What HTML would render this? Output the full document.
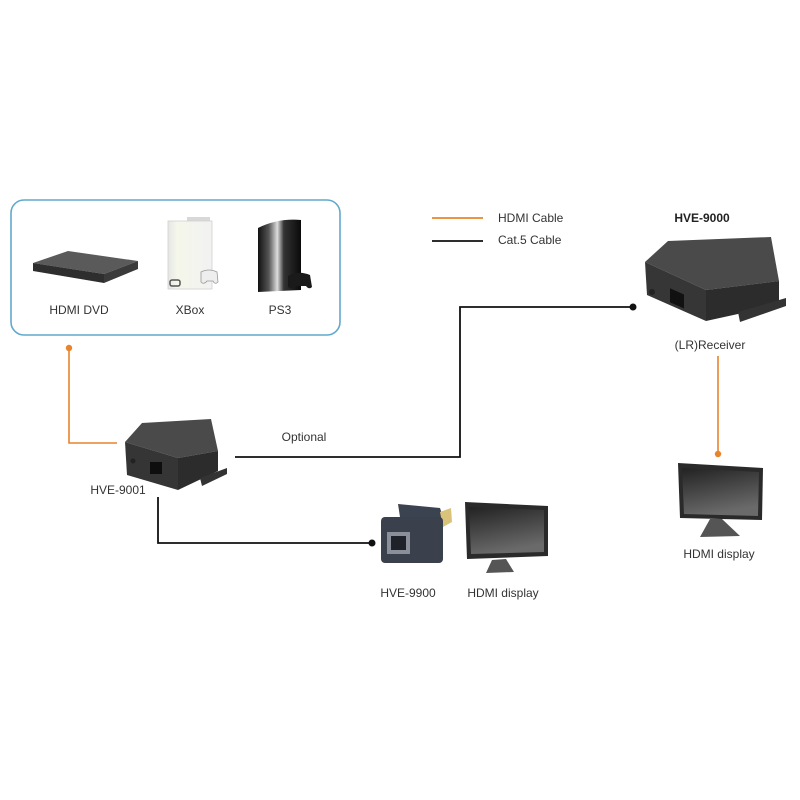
<!DOCTYPE html>
<html><head><meta charset="utf-8"><style>
html,body{margin:0;padding:0;background:#fff;}
svg{display:block;}
text{font-family:"Liberation Sans",sans-serif;fill:#333;font-size:12px;}
</style></head><body>
<svg width="800" height="800" viewBox="0 0 800 800" xmlns="http://www.w3.org/2000/svg">
<defs>
<linearGradient id="ps3" x1="0" x2="1" y1="0" y2="0">
<stop offset="0" stop-color="#111"/><stop offset="0.25" stop-color="#555"/><stop offset="0.45" stop-color="#ddd"/><stop offset="0.6" stop-color="#333"/><stop offset="1" stop-color="#0a0a0a"/>
</linearGradient>
<linearGradient id="xb" x1="0" x2="1" y1="0" y2="0">
<stop offset="0" stop-color="#e6e6e6"/><stop offset="0.2" stop-color="#f4f7ea"/><stop offset="1" stop-color="#f2f2f2"/>
</linearGradient>
<linearGradient id="scr" x1="0" x2="0.3" y1="0" y2="1">
<stop offset="0" stop-color="#222"/><stop offset="1" stop-color="#6a6a6a"/>
</linearGradient>
</defs>
<!-- source box -->
<rect x="11" y="200" width="329" height="135" rx="13" ry="13" fill="none" stroke="#62a9cb" stroke-width="1.6"/>

<!-- DVD -->
<polygon points="33,263 68,251 138,261 104,274" fill="#5a5a5a"/>
<polygon points="33,263 104,274 104,283 33,271" fill="#2e2e2e"/>
<polygon points="104,274 138,261 138,269 104,283" fill="#3a3a3a"/>
<text x="79" y="314" text-anchor="middle">HDMI DVD</text>

<!-- XBox -->
<polygon points="187,217 210,217 210,222 187,222" fill="#d8d8d8"/>
<rect x="168" y="221" width="44" height="68" fill="url(#xb)" stroke="#d0d0d0" stroke-width="0.8"/>
<rect x="170" y="280" width="10" height="6" rx="2" fill="none" stroke="#555" stroke-width="1.5"/>
<path d="M201,272 q8,-4 16,0 l1,10 q-3,3 -5,-1 l-6,0 q-3,4 -6,1 z" fill="#eee" stroke="#999" stroke-width="0.8"/>
<text x="190" y="314" text-anchor="middle">XBox</text>

<!-- PS3 -->
<path d="M258,228 q20,-10 43,-8 l0,70 q-22,1 -43,2 z" fill="url(#ps3)"/>
<path d="M288,276 q10,-6 22,-1 l2,12 q-3,3 -6,-1 l-10,0 q-4,4 -8,1 z" fill="#1a1a1a"/>
<text x="280" y="314" text-anchor="middle">PS3</text>

<!-- legend -->
<line x1="432" y1="218" x2="483" y2="218" stroke="#e8842c" stroke-width="1.8"/>
<line x1="432" y1="241" x2="483" y2="241" stroke="#111" stroke-width="1.8"/>
<text x="498" y="222">HDMI Cable</text>
<text x="498" y="244">Cat.5 Cable</text>

<!-- HVE-9000 -->
<text x="702" y="222" text-anchor="middle" font-weight="bold" style="font-weight:bold;fill:#222">HVE-9000</text>
<polygon points="645,262 668,241 771,237 779,281 706,290" fill="#4a4a4a"/>
<polygon points="645,262 706,290 706,321 647,295" fill="#363636"/>
<polygon points="706,290 779,281 779,305 706,321" fill="#2c2c2c"/>
<polygon points="738,312 786,298 786,306 740,322" fill="#333"/>
<rect x="670" y="290" width="14" height="14" fill="#111" transform="skewY(24) translate(0,-300)"/>
<circle cx="652" cy="292" r="3" fill="#222"/>
<text x="710" y="349" text-anchor="middle">(LR)Receiver</text>

<!-- cat5 lines -->
<polyline points="235,457 460,457 460,307 633,307" fill="none" stroke="#111" stroke-width="1.8"/>
<circle cx="633" cy="307" r="3.5" fill="#111"/>
<polyline points="158,497 158,543 372,543" fill="none" stroke="#111" stroke-width="1.8"/>
<circle cx="372" cy="543" r="3.5" fill="#111"/>
<text x="304" y="441" text-anchor="middle">Optional</text>

<!-- orange lines -->
<polyline points="69,348 69,443 117,443" fill="none" stroke="#e8842c" stroke-width="1.6"/>
<circle cx="69" cy="348" r="3.2" fill="#e8842c"/>
<line x1="718" y1="356" x2="718" y2="454" stroke="#e8842c" stroke-width="1.6"/>
<circle cx="718" cy="454" r="3.2" fill="#e8842c"/>

<!-- HVE-9001 -->
<polygon points="125,442 142,423 211,419 218,451 178,458" fill="#4a4a4a"/>
<polygon points="125,442 178,458 178,490 127,475" fill="#353535"/>
<polygon points="178,458 218,451 218,471 178,490" fill="#2c2c2c"/>
<polygon points="200,478 227,468 227,474 202,486" fill="#333"/>
<rect x="150" y="462" width="12" height="12" fill="#0e0e0e"/>
<circle cx="133" cy="461" r="2.5" fill="#222"/>
<text x="118" y="494" text-anchor="middle">HVE-9001</text>

<!-- HVE-9900 -->
<polygon points="398,504 440,508 444,520 400,517" fill="#3c4350"/>
<polygon points="440,512 451,508 452,522 443,527" fill="#d9c37a"/>
<rect x="381" y="517" width="62" height="46" rx="4" fill="#3a404c"/>
<rect x="387" y="532" width="23" height="22" fill="#8a8f99"/>
<rect x="391" y="536" width="15" height="14" fill="#1f2228"/>
<text x="408" y="597" text-anchor="middle">HVE-9900</text>

<!-- HDMI display bottom -->
<polygon points="465,502 548,506 548,556 467,559" fill="#2a2a2a"/>
<polygon points="469,507 544,510 544,552 471,554" fill="url(#scr)"/>
<polygon points="492,560 506,559 514,572 486,573" fill="#555"/>
<text x="503" y="597" text-anchor="middle">HDMI display</text>

<!-- HDMI display right -->
<polygon points="678,463 763,468 762,520 680,518" fill="#2a2a2a"/>
<polygon points="682,468 759,472 758,516 684,514" fill="url(#scr)"/>
<polygon points="710,519 722,519 740,536 700,537" fill="#555"/>
<text x="719" y="558" text-anchor="middle">HDMI display</text>
</svg>
</body></html>
